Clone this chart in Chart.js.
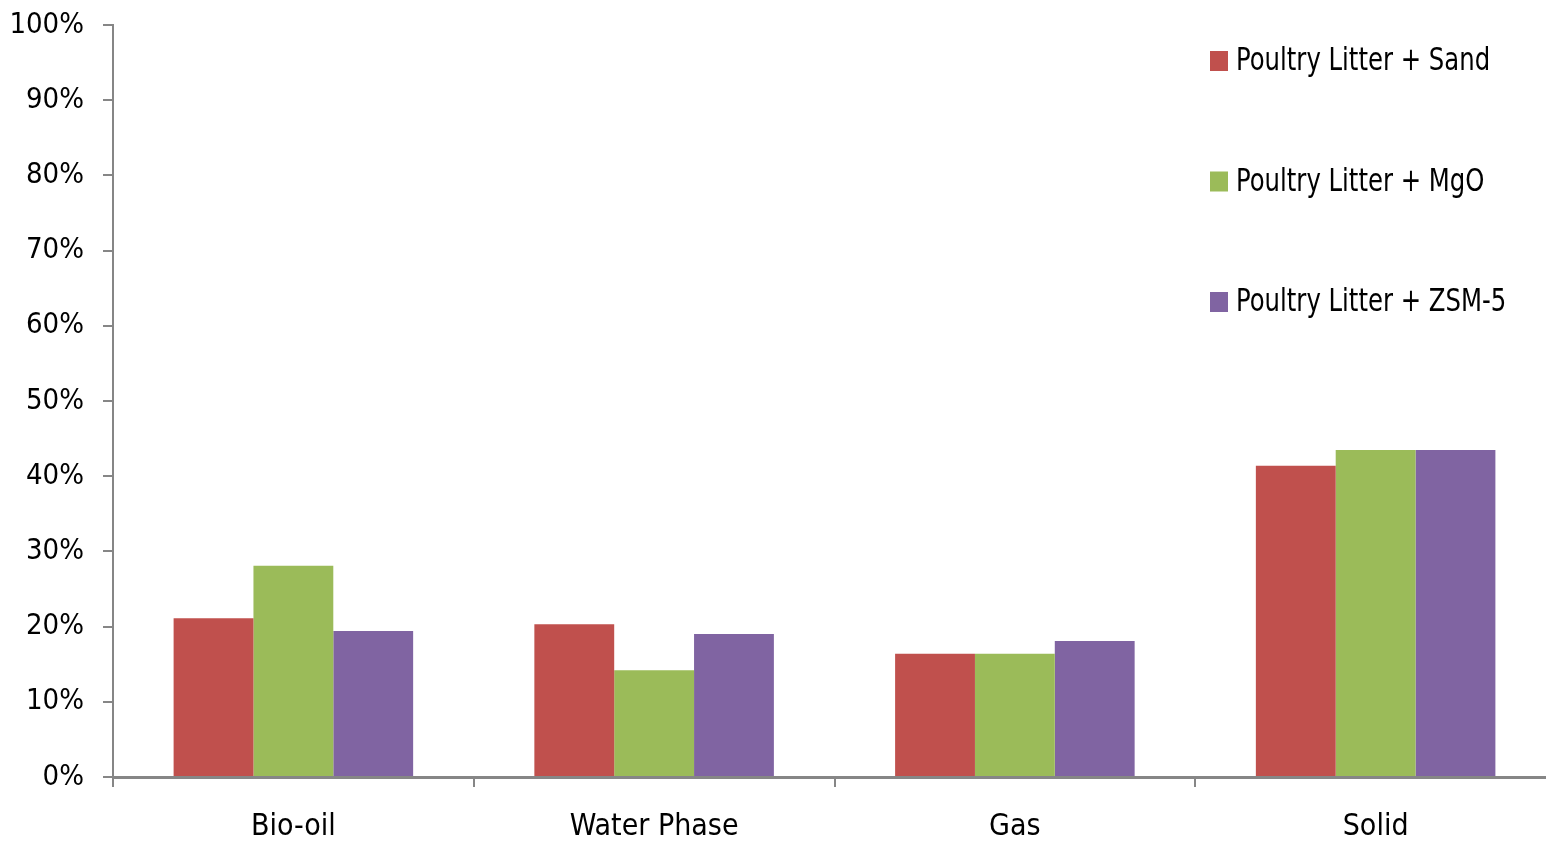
<!DOCTYPE html>
<html>
<head>
<meta charset="utf-8">
<script src="https://cdn.jsdelivr.net/npm/chart.js@4/dist/chart.umd.min.js"></script>
<style>
  html, body { margin: 0; padding: 0; background: #fff; overflow: hidden; }
  #wrap { position: relative; width: 1556px; height: 843px; }
</style>
</head>
<body>
<div id="wrap"><canvas id="c" width="1556" height="843"></canvas></div>
<script>
// Product yield distribution (%)
const categories = ['Bio-oil', 'Water Phase', 'Gas', 'Solid'];
const seriesNames = ['Poultry Litter + Sand', 'Poultry Litter + MgO', 'Poultry Litter + ZSM-5'];
const sand = [21.1, 20.3, 16.4, 41.4];
const mgo = [28.1, 14.2, 16.4, 43.5];
const zsm5 = [19.4, 19.0, 18.1, 43.5];
const yTicks = [0, 10, 20, 30, 40, 50, 60, 70, 80, 90, 100];

const colors = ['#C0504D', '#9BBB59', '#8064A2'];
const FONT = '"DejaVu Sans Condensed", "Liberation Sans Narrow", "Open Sans", sans-serif';
const AXIS = '#868686';

// Legend stacked vertically in the top-right corner of the plot,
// text narrowed horizontally to keep the condensed look
const cornerLegend = {
  id: 'cornerLegend',
  afterDraw(chart) {
    const ctx = chart.ctx;
    const sx = 0.846;
    chart.data.datasets.forEach((ds, i) => {
      const y = 61 + i * 120.5;
      ctx.save();
      ctx.fillStyle = ds.backgroundColor;
      ctx.fillRect(1210, y - 10, 18, 20);
      ctx.translate(1236, y + 1);
      ctx.scale(sx, 1);
      ctx.font = '32px ' + FONT;
      ctx.textBaseline = 'middle';
      ctx.fillStyle = '#000';
      ctx.fillText(ds.label, 0, 0);
      ctx.restore();
    });
  }
};

new Chart(document.getElementById('c'), {
  type: 'bar',
  data: {
    labels: categories,
    datasets: [
      { label: seriesNames[0], data: sand, backgroundColor: colors[0] },
      { label: seriesNames[1], data: mgo, backgroundColor: colors[1] },
      { label: seriesNames[2], data: zsm5, backgroundColor: colors[2] }
    ]
  },
  options: {
    responsive: false,
    animation: false,
    layout: { padding: { top: 25, right: 0, left: 0, bottom: 0 } },
    datasets: { bar: { categoryPercentage: 0.664, barPercentage: 1.0, borderWidth: 0 } },
    plugins: { legend: { display: false }, tooltip: { enabled: false } },
    scales: {
      x: {
        grid: { drawOnChartArea: false, color: AXIS, lineWidth: 2, tickLength: 10, offset: true },
        border: { color: AXIS, width: 3 },
        ticks: { color: '#000', font: { family: FONT, size: 30 }, padding: 22 },
        afterFit(scale) { scale.height = 66; scale.paddingLeft = 0; scale.paddingRight = 0; }
      },
      y: {
        min: 0, max: 100,
        afterBuildTicks(scale) { scale.ticks = yTicks.map(v => ({ value: v })); },
        grid: { drawOnChartArea: false, color: AXIS, lineWidth: 2, tickLength: 10 },
        border: { color: AXIS, width: 2 },
        ticks: { color: '#000', font: { family: FONT, size: 29 }, padding: 19,
                 callback: v => v + '%' },
        afterFit(scale) { scale.width = 113; scale.paddingTop = 0; scale.paddingBottom = 0; }
      }
    }
  },
  plugins: [cornerLegend]
});
</script>
</body>
</html>
